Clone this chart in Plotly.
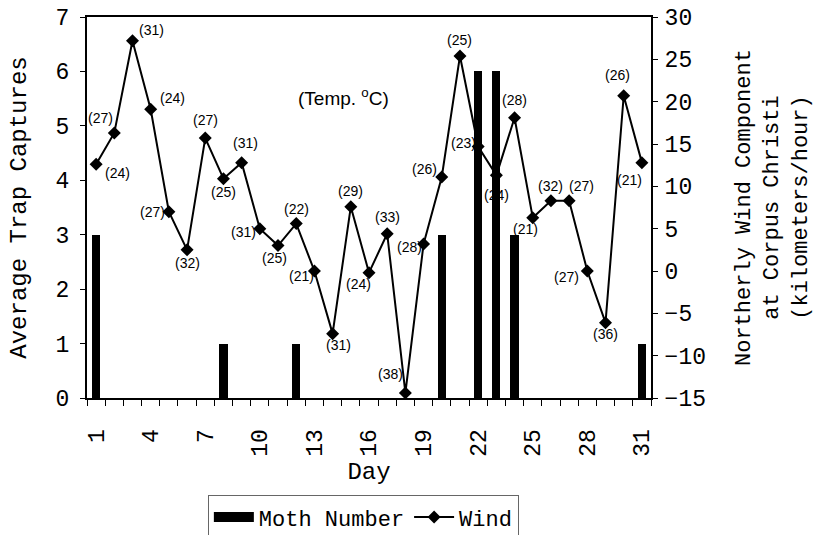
import plotly.graph_objects as go

days = list(range(1, 32))
moth = [3, 0, 0, 0, 0, 0, 0, 1, 0, 0, 0, 1, 0, 0, 0, 0, 0, 0, 0, 3, 0, 6, 6, 3, 0, 0, 0, 0, 0, 0, 1]
wind = [12.6, 16.3, 27.2, 19.1, 7.0, 2.5, 15.7, 10.9, 12.8, 5.0, 3.0, 5.6, 0.0, -7.4, 7.6, -0.2,
        4.4, -14.4, 3.2, 11.1, 25.4, 14.7, 11.3, 18.1, 6.3, 8.3, 8.3, 0.0, -6.1, 20.7, 12.8]
temps = ["(24)", "(27)", "(31)", "(24)", "(27)", "(32)", "(27)", "(25)", "(31)", "(31)", "(25)",
         "(22)", "(21)", "(31)", "(29)", "(24)", "(33)", "(38)", "(28)", "(26)", "(25)", "(23)",
         "(24)", "(28)", "(21)", "(32)", "(27)", "(27)", "(36)", "(26)", "(21)"]
# label offsets (pixels) relative to each marker
offsets = [(21, -9), (-14, 15), (19, 11), (22, 11), (-16, 0), (0, -13), (0, 18), (0, -13),
           (4, 20), (-16, -3), (-4, -12), (0, 15), (-13, -5), (6, -11), (0, 16), (-11, -11),
           (0, 17), (-15, 19), (-14, -3), (-17, 8), (0, 16), (-15, 4), (0, -20), (0, 18),
           (-7, -11), (0, 15), (12, 15), (-21, -6), (0, -11), (-6, 21), (-12, -17)]
tick_days = [1, 4, 7, 10, 13, 16, 19, 22, 25, 28, 31]

mono = "Liberation Mono, Courier New, monospace"
sans = "Liberation Sans, Arial, sans-serif"
FS = 23

fig = go.Figure()
fig.add_trace(go.Bar(x=days, y=moth, name="Moth Number", marker=dict(color="black", line=dict(width=0)),
                     width=0.45, yaxis="y", showlegend=False))
# legend-only entry drawn as a wide black block, like the reference legend swatch
fig.add_trace(go.Scatter(x=[None], y=[None], name="Moth Number", mode="lines",
                         line=dict(color="black", width=14), yaxis="y"))
fig.add_trace(go.Scatter(x=days, y=wind, name="Wind", mode="lines+markers", yaxis="y2",
                         line=dict(color="black", width=2),
                         marker=dict(symbol="diamond", size=10, color="black")))

annotations = []
for d, w, t, (dx, dy) in zip(days, wind, temps, offsets):
    annotations.append(dict(x=d, y=w, xref="x", yref="y2", text=t, showarrow=False,
                            xshift=dx, yshift=dy, font=dict(family=sans, size=14, color="black")))
annotations.append(dict(x=14.6, y=20.5, xref="x", yref="y2", text="(Temp. <sup>o</sup>C)", showarrow=False,
                        font=dict(family=sans, size=19, color="black")))

fig.update_layout(
    width=814, height=535,
    margin=dict(l=87, r=163, t=17, b=137, autoexpand=False),
    plot_bgcolor="white", paper_bgcolor="white",
    bargap=0,
    showlegend=True,
    legend=dict(orientation="h", x=0.49, y=-0.255, xanchor="center", yanchor="top",
                bordercolor="#666", borderwidth=1, font=dict(family=mono, size=22, color="black"),
                itemwidth=40, tracegroupgap=0),
    xaxis=dict(range=[0.5, 31.5], tickmode="array", tickvals=tick_days, ticktext=[str(v) for v in tick_days],
               tickangle=-90, showgrid=False, zeroline=False, showline=True, linecolor="black", linewidth=2,
               mirror=True, ticks="", ticklabelstandoff=20,
               minor=dict(dtick=1, tick0=0.5, ticks="outside", ticklen=6, tickcolor="black", showgrid=False),
               tickfont=dict(family=mono, size=FS, color="black"),
               title=dict(text="Day", font=dict(family=mono, size=24, color="black"), standoff=6)),
    yaxis=dict(range=[0, 7], dtick=1, showgrid=False, zeroline=False, showline=True, linecolor="black",
               linewidth=2, ticks="outside", ticklen=5, tickcolor="black", ticklabelstandoff=6,
               tickfont=dict(family=mono, size=FS, color="black"),
               title=dict(text="Average Trap Captures", font=dict(family=mono, size=24, color="black"), standoff=22)),
    yaxis2=dict(range=[-15, 30], dtick=5, overlaying="y", side="right", showgrid=False, zeroline=False,
                showline=True, linecolor="black", linewidth=2, ticks="outside", ticklen=5, tickcolor="black",
                ticklabelstandoff=2,
                tickfont=dict(family=mono, size=FS, color="black"),
                title=dict(text="Northerly Wind Component<br>at Corpus Christi<br>(kilometers/hour)",
                           font=dict(family=mono, size=22, color="black"), standoff=40)),
    annotations=annotations,
)

# remove the browser's default body margin so the figure sits at the page origin
fig.write_html("out.html", config={"displayModeBar": False},
               post_script="document.body.style.margin='0';")
